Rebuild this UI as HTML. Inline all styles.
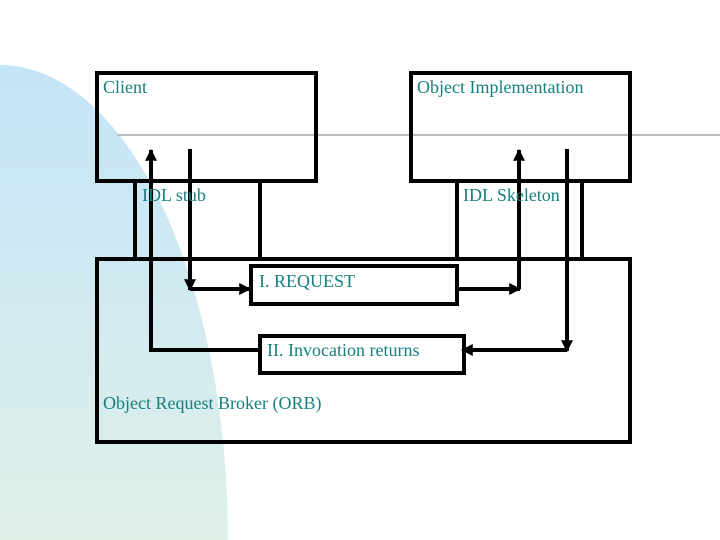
<!DOCTYPE html>
<html style="overflow:hidden"><head><style>
html,body{margin:0;width:720px;height:540px;overflow:hidden;background:#fff;}
body{position:relative;font-family:"Liberation Serif",serif;}
.t{position:absolute;color:#17807f;font-size:18px;line-height:20px;white-space:nowrap}
svg{display:block}
</style></head><body>
<svg width="720" height="540" style="position:absolute;left:0;top:0">
<defs>
<linearGradient id="g" x1="0" y1="0" x2="0" y2="1">
<stop offset="0" stop-color="#c4e4f8"/>
<stop offset="0.45" stop-color="#dcefea"/>
<stop offset="1" stop-color="#fdfccb"/>
</linearGradient>
<marker id="a" viewBox="0 0 10 10" refX="9" refY="5" markerWidth="3" markerHeight="3" orient="auto"><path d="M0 0L10 5L0 10z" fill="#000"/></marker>
</defs>
<ellipse cx="0" cy="540" rx="228" ry="475" fill="url(#g)"/>
<line x1="117" y1="135" x2="720" y2="135" stroke="#bbb" stroke-width="2"/>
<g fill="none" stroke="#000" stroke-width="4">
<rect x="97" y="73" width="219" height="108"/>
<rect x="411" y="73" width="219" height="108"/>
<line x1="135" y1="181" x2="135" y2="258"/>
<line x1="260" y1="181" x2="260" y2="258"/>
<line x1="457" y1="181" x2="457" y2="258"/>
<line x1="582" y1="181" x2="582" y2="258"/>
<rect x="97" y="259" width="533" height="183"/>
<rect x="251" y="266" width="206" height="38" fill="#fff"/>
<rect x="260" y="336" width="204" height="37" fill="#fff"/>
<polyline points="259,350 151,350 151,150" marker-end="url(#a)"/>
<polyline points="190,149 190,290" marker-end="url(#a)"/>
<polyline points="190,289 250,289" marker-end="url(#a)"/>
<polyline points="457,289 520,289" marker-end="url(#a)"/>
<polyline points="519,289 519,150" marker-end="url(#a)"/>
<polyline points="567,149 567,351" marker-end="url(#a)"/>
<polyline points="567,350 462,350" marker-end="url(#a)"/>
</g>
</svg>
<div class="t" style="left:103px;top:77px">Client</div>
<div class="t" style="left:417px;top:77px">Object Implementation</div>
<div class="t" style="left:142px;top:185px">IDL stub</div>
<div class="t" style="left:463px;top:185px">IDL Skeleton</div>
<div class="t" style="left:259px;top:271px">I. REQUEST</div>
<div class="t" style="left:267px;top:340px">II. Invocation returns</div>
<div class="t" style="left:103px;top:393px">Object Request Broker (ORB)</div>
</body></html>
